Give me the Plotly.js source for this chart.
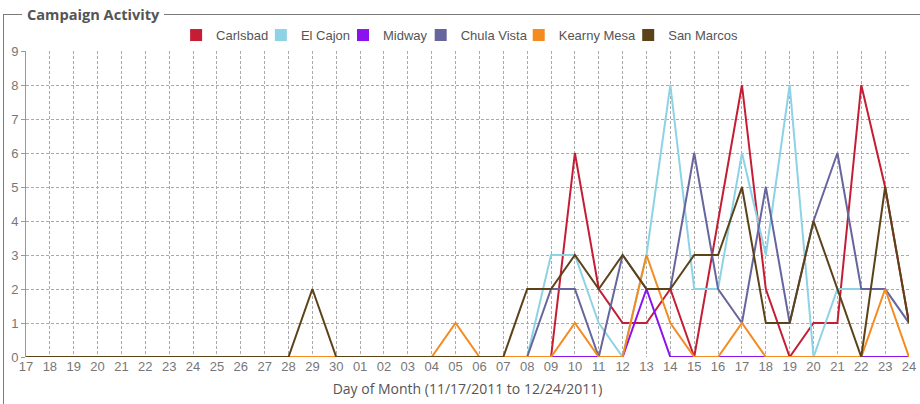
<!DOCTYPE html>
<html>
<head>
<meta charset="utf-8">
<script src="https://cdn.plot.ly/plotly-3.0.1.min.js"></script>
<style>
  html, body { margin:0; padding:0; background:#fff; overflow:hidden; width:920px; height:404px; }
  #frame { position:absolute; left:3px; top:14px; width:1000px; height:500px; border:1px solid #7a7a7a; box-sizing:border-box; }
  #ftitle { position:absolute; left:22px; top:5px; padding:0 5px; background:#fff; font-family:'Open Sans', sans-serif; font-weight:700; font-size:14.6px; line-height:18px; color:#555; }
  #chart { position:absolute; left:0; top:0; width:920px; height:404px; }
</style>
</head>
<body>
<div id="frame"></div>
<div id="chart"></div>
<div id="ftitle">Campaign Activity</div>
<script>
// Day-of-month tick labels (11/17/2011 .. 12/24/2011)
const dayLabels = ['17','18','19','20','21','22','23','24','25','26','27','28','29','30',
                   '01','02','03','04','05','06','07','08','09','10','11','12','13','14',
                   '15','16','17','18','19','20','21','22','23','24'];

const seriesNames = ['Carlsbad','El Cajon','Midway','Chula Vista','Kearny Mesa','San Marcos'];

const carlsbad   = [0,0,0,0,0,0,0,0,0,0,0,0,0,0, 0,0,0,0,0,0,0,0,0,6,2,1,1,2, 0,4,8,2,0,1,1,8,5,1];
const elCajon    = [0,0,0,0,0,0,0,0,0,0,0,0,0,0, 0,0,0,0,0,0,0,0,3,3,1,0,3,8, 2,2,6,3,8,0,2,2,2,1];
const midway     = [0,0,0,0,0,0,0,0,0,0,0,0,0,0, 0,0,0,0,0,0,0,0,0,0,0,0,2,0, 0,0,0,0,0,0,0,0,0,0];
const chulaVista = [0,0,0,0,0,0,0,0,0,0,0,0,0,0, 0,0,0,0,0,0,0,0,2,2,0,3,2,2, 6,2,1,5,1,4,6,2,2,1];
const kearnyMesa = [0,0,0,0,0,0,0,0,0,0,0,0,0,0, 0,0,0,0,1,0,0,0,0,1,0,0,3,1, 0,0,1,0,0,0,0,0,2,0];
const sanMarcos  = [0,0,0,0,0,0,0,0,0,0,0,0,2,0, 0,0,0,0,0,0,0,2,2,3,2,3,2,2, 3,3,5,1,1,4,2,0,5,1];

const seriesValues = [carlsbad, elCajon, midway, chulaVista, kearnyMesa, sanMarcos];
const colors = ['#C51D34','#8ED3E5','#8B12EE','#67659D','#F58A1F','#5C4219'];

// legend item placement (paper fraction) — layout only
const legendX = [0.170, 0.266, 0.359, 0.447, 0.558, 0.682];

const xIdx = dayLabels.map((d, i) => i);

const traces = [];
seriesNames.forEach((name, k) => {
  traces.push({
    type: 'scatter', mode: 'lines', name: name, legendgroup: name, showlegend: false,
    x: xIdx, y: seriesValues[k],
    line: { color: colors[k], width: 2 },
    hoverinfo: 'x+y+name'
  });
});
seriesNames.forEach((name, k) => {
  traces.push({
    type: 'scatter', mode: 'markers', name: name, legendgroup: name, showlegend: true,
    legend: k === 0 ? 'legend' : 'legend' + (k + 1),
    x: [null], y: [null],
    marker: { symbol: 'square', size: 12, color: colors[k] }
  });
});

const tickFont = { family: 'Liberation Sans, Arial, sans-serif', size: 13, color: '#777' };
const legendFont = { family: 'Liberation Sans, Arial, sans-serif', size: 13, color: '#555' };

const layout = {
  width: 920, height: 404,
  margin: { l: 26, r: 11, t: 51, b: 47, pad: 0 },
  paper_bgcolor: 'rgba(0,0,0,0)',
  plot_bgcolor: '#fff',
  showlegend: true,
  xaxis: {
    range: [0, 37], tickmode: 'array', tickvals: xIdx, ticktext: dayLabels,
    showgrid: true, gridcolor: '#aaaaaa', griddash: '3px,2px', gridwidth: 1,
    zeroline: false, showline: false, ticks: '', tickfont: tickFont,
    title: { text: 'Day of Month (11/17/2011 to 12/24/2011)', standoff: 11,
             font: { family: 'Open Sans, sans-serif', size: 14, color: '#555' } },
    fixedrange: true
  },
  yaxis: {
    range: [0, 9], tickmode: 'linear', tick0: 0, dtick: 1,
    showgrid: true, gridcolor: '#aaaaaa', griddash: '3px,2px', gridwidth: 1,
    zeroline: false, showline: true, linecolor: '#999', linewidth: 1,
    ticks: 'outside', ticklen: 4, tickcolor: '#999', tickfont: tickFont,
    fixedrange: true
  }
};
seriesNames.forEach((name, k) => {
  const key = k === 0 ? 'legend' : 'legend' + (k + 1);
  layout[key] = {
    orientation: 'h', x: legendX[k], xanchor: 'left', y: 1.052, yanchor: 'middle',
    font: legendFont, itemwidth: 30, bgcolor: 'rgba(0,0,0,0)', borderwidth: 0
  };
});

Plotly.newPlot('chart', traces, layout, { displayModeBar: false, staticPlot: true });
</script>
</body>
</html>
